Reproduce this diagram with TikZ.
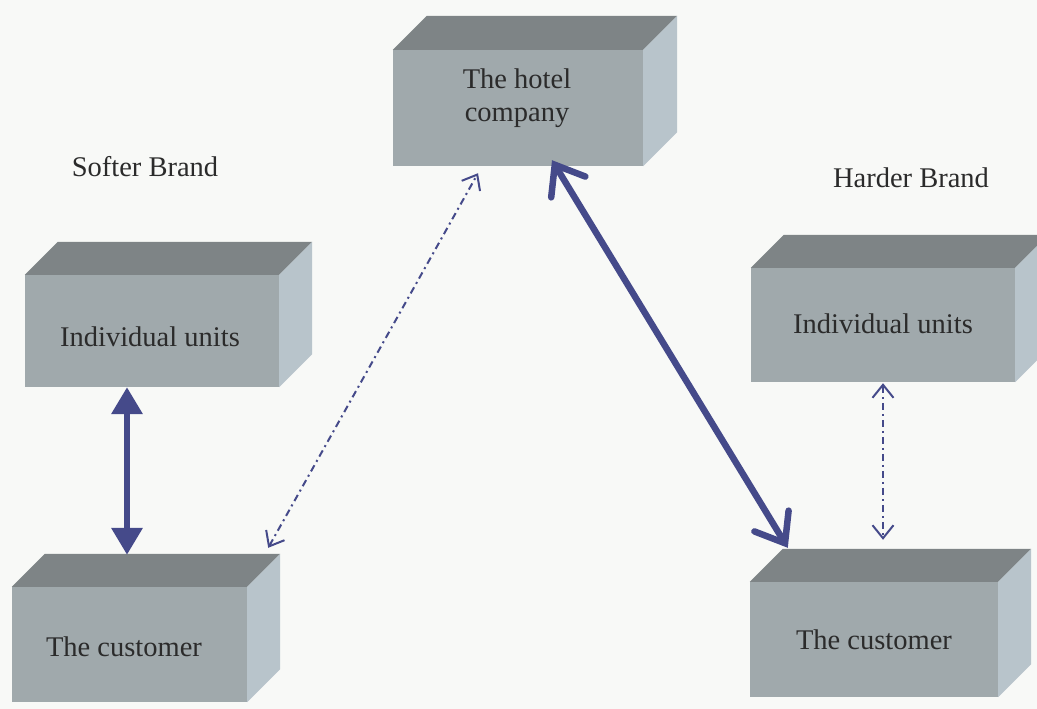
\documentclass[tikz,border=0pt]{standalone}
\usepackage{fontspec}
\setmainfont{Liberation Serif}
\usetikzlibrary{arrows.meta,calc}
\definecolor{bg}{HTML}{F8F9F7}
\definecolor{frontc}{HTML}{A0A9AC}
\definecolor{topc}{HTML}{7E8486}
\definecolor{sidec}{HTML}{B8C4CB}
\definecolor{arrc}{HTML}{454A8A}
\definecolor{txt}{HTML}{2B2B2B}
\tikzset{
  front/.style={fill=frontc, inner sep=0pt, draw=none},
  lbl/.style={font=\fontsize{28.5}{33}\selectfont, text=txt, align=center, inner sep=0pt},
  thickarr/.style={draw=arrc, fill=arrc, line width=6.5pt,
    {Triangle[width=30pt,length=27pt]}-{Triangle[width=30pt,length=27pt]}},
  thickbarb/.style={draw=arrc, line width=6.5pt, line cap=round,
    {Straight Barb[length=26pt,width=40pt,line cap=round]}-{Straight Barb[length=26pt,width=40pt,line cap=round]}},
  dotarr/.style={draw=arrc, line width=2pt, dash pattern=on 7pt off 4pt on 2pt off 4pt,
    {Straight Barb[length=13pt,width=21pt]}-{Straight Barb[length=13pt,width=21pt]}},
}
\newcommand\cuboid[6]{%
  \node[front, minimum width=#4pt, minimum height=#5pt] (#1) at (#2,#3) {};
  \fill[topc] (#1.north west) -- ++(#6,-#6) -- ($(#1.north east)+(#6,-#6)$) -- (#1.north east) -- cycle;
  \fill[sidec] (#1.north east) -- ++(#6,-#6) -- ($(#1.south east)+(#6,-#6)$) -- (#1.south east) -- cycle;
}
\begin{document}
\begin{tikzpicture}[x=1pt,y=-1pt]
\useasboundingbox (0,0) rectangle (1037,709);
\fill[bg] (0,0) rectangle (1037,709);
\clip (0,0) rectangle (1037,709);

\cuboid{hotel}{518}{108}{250}{116}{34}
\cuboid{lunits}{152}{331}{254}{112}{33}
\cuboid{lcust}{129.5}{644.5}{235}{115}{33}
\cuboid{runits}{883}{325}{264}{114}{33}
\cuboid{rcust}{874}{639.5}{248}{115}{33}

\node[lbl] (hotelt) at (517,98) {The hotel\\company};
\node[lbl] (lunitst) at (150,337) {Individual units};
\node[lbl] (lcustt) at (124,647) {The customer};
\node[lbl] (runitst) at (883,324) {Individual units};
\node[lbl] (rcustt) at (874,640) {The customer};
\node[lbl] (softer) at (145,167) {Softer Brand};
\node[lbl] (harder) at (911,178) {Harder Brand};

\draw[thickarr] ([xshift=-25pt]lunits.south) -- ([shift={(-2.5,-32)}]lcust.north);
\draw[dotarr] ([shift={(21,-39)}]lcust.north east) -- ([shift={(-40,7)}]hotel.south);
\draw[thickbarb] ([shift={(34,-6)}]hotel.south) -- ([shift={(38,-34)}]rcust.north west);
\draw[dotarr] ([shift={(0,1)}]runits.south) -- ([shift={(9,-42)}]rcust.north);
\end{tikzpicture}
\end{document}
